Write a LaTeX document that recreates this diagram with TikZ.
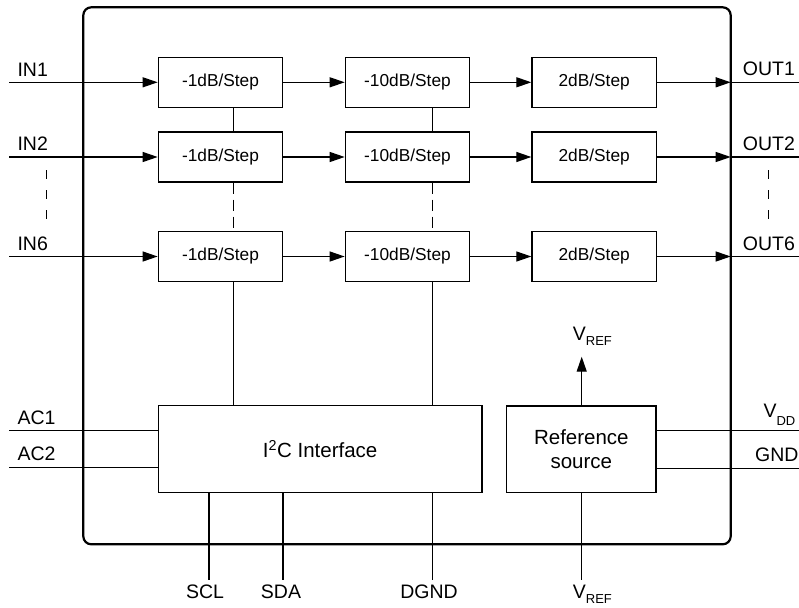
\documentclass[tikz,border=0pt]{standalone}
\usepackage{fontspec}
\setmainfont{Liberation Sans}
\usetikzlibrary{arrows.meta}
\newcommand{\lowsub}[2]{\raisebox{-#1}{\fontsize{13}{13}\selectfont #2}}
\begin{document}
\begin{tikzpicture}[x=1pt,y=-1pt,
  blk/.style={draw, line width=1.2pt, minimum width=124.5pt, minimum height=50pt, inner sep=0pt, font=\fontsize{17.3}{20}\selectfont},
  big/.style={draw, line width=1.2pt, inner sep=0pt, font=\fontsize{20.5}{23.4}\selectfont, align=center},
  lbl/.style={inner sep=0pt, font=\fontsize{19.5}{22}\selectfont},
  wire/.style={line width=1.2pt},
  arr/.style={line width=1.2pt, -{Triangle[length=15pt,width=10pt]}},
  dsh/.style={line width=1.2pt, dash pattern=on 11pt off 6pt},
  sdsh/.style={line width=1.2pt, dash pattern=on 9pt off 11pt},
]
\useasboundingbox (0,0) rectangle (799,607);
\draw[line width=2.2pt, rounded corners=8pt] (83.3,7.3) rectangle (730.7,544.3);

% attenuator blocks
\node[blk] (a1) at (220.5,82.3) {-1dB/Step};
\node[blk] (b1) at (407.5,82.3) {-10dB/Step};
\node[blk] (c1) at (594.2,82.3) {2dB/Step};
\node[blk] (a2) at (220.5,157) {-1dB/Step};
\node[blk] (b2) at (407.5,157) {-10dB/Step};
\node[blk] (c2) at (594.2,157) {2dB/Step};
\node[blk] (a3) at (220.5,256.5) {-1dB/Step};
\node[blk] (b3) at (407.5,256.5) {-10dB/Step};
\node[blk] (c3) at (594.2,256.5) {2dB/Step};

% big blocks
\node[big, minimum width=323.7pt, minimum height=87pt] (i2c) at (320.15,449.2) {I\textsuperscript{2}C Interface};
\node[big, minimum width=149.3pt, minimum height=86.7pt] (ref) at (581.35,449.35) {Reference\\source};

% inputs
\coordinate (i1) at (9,82.3);
\coordinate (i2) at (9,157);
\coordinate (i6) at (9,256.5);
\draw[arr] (i1) -- (a1.west);
\draw[arr] (i2) -- (a2.west);
\draw[arr] (i6) -- (a3.west);
\node[lbl, anchor=base west] (in1l) at (17.3,76.7) {IN1};
\node[lbl, anchor=base west] (in2l) at (17.3,150.7) {IN2};
\node[lbl, anchor=base west] (in6l) at (17.3,250.7) {IN6};
\coordinate (ld1) at (46.7,170);
\coordinate (ld2) at (46.7,220);
\draw[sdsh] (ld1) -- (ld2);

% chains
\draw[arr] (a1) -- (b1);
\draw[arr] (b1) -- (c1);
\draw[arr] (a2) -- (b2);
\draw[arr] (b2) -- (c2);
\draw[arr] (a3) -- (b3);
\draw[arr] (b3) -- (c3);

% outputs
\coordinate (o1) at (730.7,82.3);
\coordinate (o2) at (730.7,157);
\coordinate (o6) at (730.7,256.5);
\coordinate (e1) at (799,82.3);
\coordinate (e2) at (799,157);
\coordinate (e6) at (799,256.5);
\draw[arr] (c1) -- (o1);
\draw[arr] (c2) -- (o2);
\draw[arr] (c3) -- (o6);
\draw[wire] (o1) -- (e1);
\draw[wire] (o2) -- (e2);
\draw[wire] (o6) -- (e6);
\node[lbl, anchor=base west] (out1l) at (742.7,76) {OUT1};
\node[lbl, anchor=base west] (out2l) at (742.7,150.7) {OUT2};
\node[lbl, anchor=base west] (out6l) at (742.7,250) {OUT6};
\coordinate (rd1) at (768.3,170);
\coordinate (rd2) at (768.3,220);
\draw[sdsh] (rd1) -- (rd2);

% vertical control buses
\coordinate (va) at (233.3,0);
\coordinate (vb) at (432.3,0);
\draw[wire] (a1.south -| va) -- (a2.north -| va);
\draw[dsh] (a2.south -| va) -- (a3.north -| va);
\draw[wire] (a3.south -| va) -- (i2c.north -| va);
\draw[wire] (b1.south -| vb) -- (b2.north -| vb);
\draw[dsh] (b2.south -| vb) -- (b3.north -| vb);
\draw[wire] (b3.south -| vb) -- (i2c.north -| vb);

% AC inputs
\coordinate (ac1) at (9,430.7);
\coordinate (ac2) at (9,467.3);
\draw[wire] (ac1) -- (ac1 -| i2c.west);
\draw[wire] (ac2) -- (ac2 -| i2c.west);
\node[lbl, anchor=base west] (ac1l) at (17.3,424.3) {AC1};
\node[lbl, anchor=base west] (ac2l) at (17.3,460.5) {AC2};

% bottom pins
\coordinate (scl) at (209,580);
\coordinate (sda) at (283,580);
\coordinate (dgnd) at (432.3,580);
\draw[wire] (i2c.south -| scl) -- (scl);
\draw[wire] (i2c.south -| sda) -- (sda);
\draw[wire] (i2c.south -| dgnd) -- (dgnd);
\node[lbl, anchor=base] (scll) at (205,598.3) {SCL};
\node[lbl, anchor=base] (sdal) at (281,598.3) {SDA};
\node[lbl, anchor=base] (dgndl) at (429,598.3) {DGND};

% reference source
\coordinate (vt) at (581.7,356.7);
\draw[arr] (ref.north -| vt) -- (vt);
\node[lbl, anchor=base west] (vrefl) at (572.7,340) {V\lowsub{5pt}{REF}};
\coordinate (vbt) at (581.7,580);
\draw[wire] (ref.south -| vbt) -- (vbt);
\node[lbl, anchor=base west] (vref2l) at (572.7,598.3) {V\lowsub{5pt}{REF}};
\coordinate (vdd) at (799,430.7);
\coordinate (gnd) at (799,468.3);
\draw[wire] (vdd -| ref.east) -- (vdd);
\draw[wire] (gnd -| ref.east) -- (gnd);
\node[lbl, anchor=base west] (vddl) at (763.3,417.3) {V\lowsub{8pt}{DD}};
\node[lbl, anchor=base west] (gndl) at (755,461) {GND};
\end{tikzpicture}
\end{document}
